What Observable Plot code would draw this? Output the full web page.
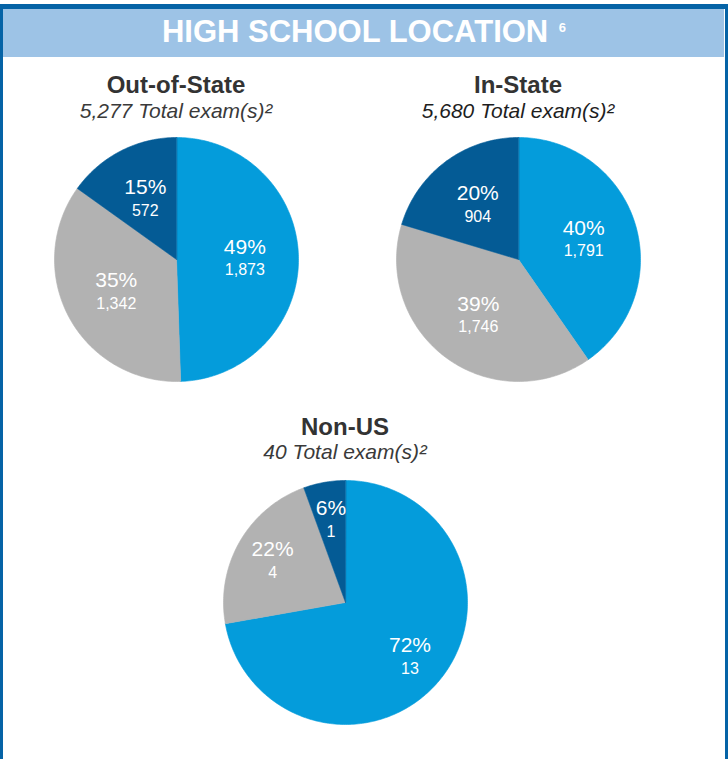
<!DOCTYPE html>
<html>
<head>
<meta charset="utf-8">
<script src="https://cdn.jsdelivr.net/npm/d3@7"></script>
<script src="https://cdn.jsdelivr.net/npm/@observablehq/plot@0.6"></script>
<style>
  body { margin: 0; background: #fff; font-family: "Liberation Sans", Arial, sans-serif; }
  #frame { position: relative; width: 728px; height: 759px; overflow: hidden; background: #fff; }
  .bar { position: absolute; background: #0563a6; }
  #header { position: absolute; left: 3px; top: 9px; width: 721px; height: 48px; background: #9dc3e6; }
  .txt { position: absolute; white-space: nowrap; transform: translateX(-50%); }
  #htitle { color: #fff; font-weight: bold; font-size: 31px; line-height: 31px; }
  #htitle sup { font-size: 13px; vertical-align: 0; position: relative; top: -10px; margin-left: 2px; }
  .ptitle { color: #333; font-weight: bold; font-size: 24px; line-height: 24px; }
  .psub { color: #3a3a3a; font-style: italic; font-size: 21px; line-height: 21px; }
  .psub .sq { font-size: 23px; line-height: 0; position: relative; top: 1px; }
  .plot { position: absolute; }
</style>
</head>
<body>
<div id="frame">
  <div class="bar" style="left:0;top:4px;width:728px;height:5px"></div>
  <div class="bar" style="left:0;top:4px;width:3px;height:755px"></div>
  <div class="bar" style="left:725px;top:4px;width:3px;height:755px"></div>
  <div id="header"></div>
  <div id="htitle" class="txt" style="left:364px;top:15.8px">HIGH SCHOOL LOCATION <sup>6</sup></div>
</div>
<script>
// ---- data ----
const categories = ["Segment A", "Segment B", "Segment C"];
const sliceColors = ["#049cdb", "#b2b2b2", "#045b95"];
const pieNames = ["Out-of-State", "In-State", "Non-US"];
const pieTotals = [5277, 5680, 40];
const outOfStateCounts = [1873, 1342, 572];
const inStateCounts = [1791, 1746, 904];
const nonUSCounts = [13, 4, 1];
const outOfStatePct = [49, 35, 15];
const inStatePct = [40, 39, 20];
const nonUSPct = [72, 22, 6];

const pieCounts = [outOfStateCounts, inStateCounts, nonUSCounts];
const piePcts = [outOfStatePct, inStatePct, nonUSPct];

// ---- layout (pixel placement of each pie block) ----
const layout = [
  { cx: 176, cy: 259, titleBase: 93, subBase: 117.5, subColor: "#3a3a3a", labelR: 0.56 },
  { cx: 518, cy: 259, titleBase: 93, subBase: 117.5, subColor: "#1e1e1e", labelR: 0.56 },
  { cx: 345, cy: 602, titleBase: 435, subBase: 459, subColor: "#3a3a3a", labelR: 0.69 }
];
const R = 122, M = 3, SIZE = 2 * R + 2 * M;
const fmt = d3.format(",");
const frame = document.getElementById("frame");

function addText(cls, html, x, baseline, fs, color) {
  const d = document.createElement("div");
  d.className = "txt " + cls;
  d.innerHTML = html;
  d.style.left = x + "px";
  d.style.top = (baseline - 0.8465 * fs) + "px";
  if (color) d.style.color = color;
  frame.appendChild(d);
}

pieNames.forEach((name, p) => {
  const L = layout[p];
  const counts = pieCounts[p], pcts = piePcts[p];
  addText("ptitle", name, L.cx, L.titleBase, 24);
  addText("psub", fmt(pieTotals[p]) + " Total exam(s)<span class=\"sq\">²</span>", L.cx, L.subBase, 21, L.subColor);

  const arcs = d3.pie().sort(null).value(d => d)(counts);
  const pts = [];
  const labels = [];
  arcs.forEach((a, i) => {
    const cat = categories[i];
    const n = Math.max(2, Math.ceil((a.endAngle - a.startAngle) / (Math.PI / 180)));
    pts.push({ cat, x: 0, y: 0 });
    for (let k = 0; k <= n; k++) {
      const t = a.startAngle + (a.endAngle - a.startAngle) * k / n;
      pts.push({ cat, x: Math.sin(t), y: Math.cos(t) });
    }
    const m = (a.startAngle + a.endAngle) / 2;
    const f = L.labelR;
    labels.push({ cat, x: f * Math.sin(m), y: f * Math.cos(m), pct: pcts[i] + "%", n: fmt(counts[i]) });
  });

  const svg = Plot.plot({
    width: SIZE, height: SIZE, margin: M,
    x: { domain: [-1, 1], axis: null },
    y: { domain: [-1, 1], axis: null },
    color: { domain: categories, range: sliceColors },
    style: { fontFamily: "'Liberation Sans', Arial, sans-serif", background: "transparent", overflow: "visible" },
    marks: [
      Plot.line(pts, { x: "x", y: "y", z: "cat", fill: "cat", stroke: "cat", strokeWidth: 0.6, curve: "linear-closed" }),
      Plot.text(labels, { x: "x", y: "y", text: "pct", fill: "white", fontSize: 21, dy: -11 }),
      Plot.text(labels, { x: "x", y: "y", text: "n", fill: "white", fontSize: 16, dy: 12 })
    ]
  });
  svg.classList.add("plot");
  svg.style.left = (L.cx - SIZE / 2) + "px";
  svg.style.top = (L.cy - SIZE / 2) + "px";
  frame.appendChild(svg);
});
</script>
</body>
</html>
